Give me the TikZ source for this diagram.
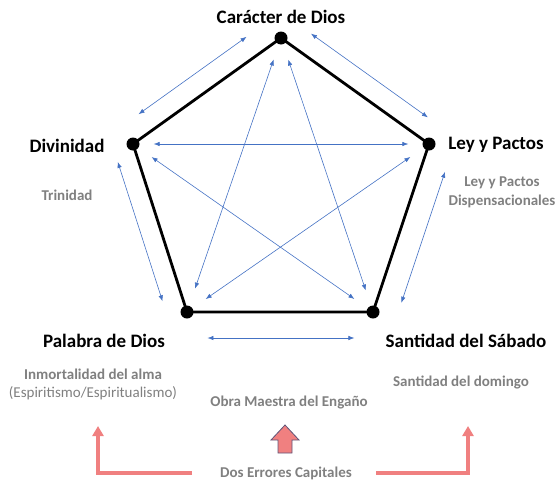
\documentclass[tikz,border=0pt]{standalone}
\usepackage{fontspec}
\setmainfont{Carlito}
\usetikzlibrary{arrows.meta,calc}
\definecolor{azul}{RGB}{68,114,196}
\definecolor{rojo}{RGB}{240,128,128}
\definecolor{gris}{RGB}{128,128,128}
\definecolor{borde}{RGB}{96,84,120}

\begin{document}
\begin{tikzpicture}[x=1pt,y=-1pt,
    punto/.style={circle,fill=black,inner sep=0pt,minimum size=13pt},
    titulo/.style={font=\fontsize{19}{22}\selectfont\bfseries,inner sep=0pt},
    nota/.style={font=\fontsize{15}{19}\selectfont\bfseries,text=gris,inner sep=0pt,align=center},
    flecha/.style={azul,line width=0.6pt,{Latex[length=6pt,width=4.5pt]}-{Latex[length=6pt,width=4.5pt]}},
    error/.style={rojo,line width=3.2pt,-{Triangle[length=10pt,width=11pt]}}]
\useasboundingbox (0,0) rectangle (556,482);

% Vértices
\node[punto] (car) at (281,38) {};
\node[punto] (ley) at (429,144) {};
\node[punto] (san) at (373,312) {};
\node[punto] (pal) at (187,312) {};
\node[punto] (div) at (133,144) {};

% Pentágono
\draw[line width=2.8pt] (car.center) -- (ley.center) -- (san.center) -- (pal.center) -- (div.center) -- cycle;

% Estrella
\draw[flecha,shorten <=14pt,shorten >=14pt] (div) -- (ley);
\draw[flecha,shorten <=16pt,shorten >=16pt] (div) -- (san);
\draw[flecha,shorten <=16pt,shorten >=16pt] (ley) -- (pal);
\draw[flecha,shorten <=16pt,shorten >=18pt] (car) -- (pal);
\draw[flecha,shorten <=16pt,shorten >=16pt] (car) -- (san);

% Lados
\draw[flecha] ($(car)!.15!(div)!21pt!-90:(div)$) -- ($(car)!.88!(div)!21pt!-90:(div)$);
\draw[flecha] ($(div)!.07!(pal)!20pt!-90:(pal)$) -- ($(div)!.90!(pal)!20pt!-90:(pal)$);
\draw[flecha] ($(pal)!.11!(san)!26pt!-90:(san)$) -- ($(pal)!.90!(san)!26pt!-90:(san)$);
\draw[flecha] ($(san)!.10!(ley)!24pt!-90:(ley)$) -- ($(san)!.88!(ley)!24pt!-90:(ley)$);
\draw[flecha] ($(ley)!.09!(car)!21pt!-90:(car)$) -- ($(ley)!.88!(car)!21pt!-90:(car)$);

% Etiquetas
\node[titulo] (tcar) at (281,17) {Carácter de Dios};
\node[titulo] (tdiv) at (67,146) {Divinidad};
\node[titulo] (tley) at (496,145) {Ley y Pactos};
\node[titulo] (tpal) at (104,341) {Palabra de Dios};
\node[titulo] (tsan) at (466,341) {Santidad del Sábado};

% Errores
\node[nota] (tri) at (67,195) {Trinidad};
\node[nota] (dis) at (502,192) {Ley y Pactos\\Dispensacionales};
\node[nota] (inm) at (93,374) {Inmortalidad del alma};
\node[nota,font=\fontsize{15}{19}\selectfont] (esp) at (93,393) {(Espiritismo/Espiritualismo)};
\node[nota] (dom) at (461,382) {Santidad del domingo};
\node[nota] (obra) at (289,403) {Obra Maestra del Engaño};
\node[nota] (dos) at (286,473) {Dos Errores Capitales};

% Flechas rojas
\coordinate (fizq) at (98,426);
\coordinate (fder) at (468,426);
\draw[error] ([xshift=-28pt]dos.west) -| (fizq);
\draw[error] ([xshift=24pt]dos.east) -| (fder);
\draw[fill=rojo,draw=borde,line width=0.8pt] (285,425) -- (299,440) -- (292,440) -- (292,453) -- (278,453) -- (278,440) -- (271,440) -- cycle;
\end{tikzpicture}
\end{document}
